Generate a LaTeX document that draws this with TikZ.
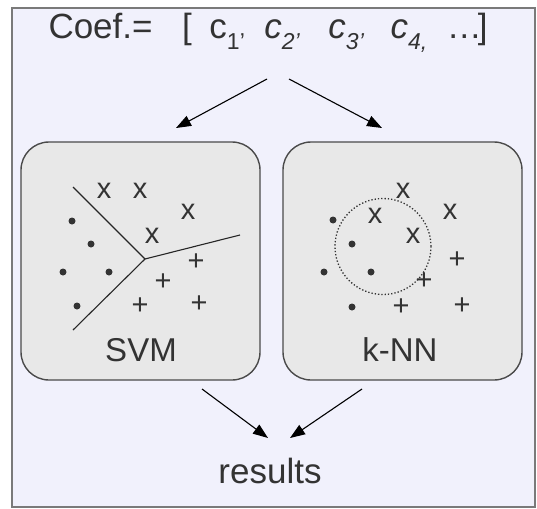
\documentclass[tikz,border=0pt]{standalone}
\usepackage{fontspec}
\setmainfont{Liberation Sans}
\usetikzlibrary{arrows.meta}
\definecolor{framefill}{HTML}{F1F1FC}
\definecolor{framedraw}{HTML}{7A7A7A}
\definecolor{boxfill}{HTML}{E8E8E8}
\definecolor{boxdraw}{HTML}{4A4A4A}
\definecolor{ink}{HTML}{333333}
\newcommand{\coefsub}[1]{\raisebox{-0.30em}{\fontsize{23}{25}\selectfont #1}}
\tikzset{
  panel/.style={draw=boxdraw, fill=boxfill, line width=1.4pt, rounded corners=28pt,
    minimum width=239pt, minimum height=238pt, inner sep=0pt},
  flow/.style={-{Triangle[length=15pt,width=11pt]}, line width=1.1pt, draw=black},
  label/.style={text=ink, font=\fontsize{33}{38}\selectfont, inner sep=0pt},
  mark x/.style={text=ink, font=\fontsize{29}{32}\selectfont, inner sep=0pt},
  mark plus/.style={text=ink, font=\fontsize{29}{32}\selectfont, inner sep=0pt},
  dot/.style={fill=ink, circle, minimum size=7pt, inner sep=0pt},
  border/.style={line width=1.1pt, draw=black!85}
}
\begin{document}
\begin{tikzpicture}[x=1pt, y=-1pt]
\useasboundingbox (0,0) rectangle (537,508);
% outer frame
\draw[framedraw, fill=framefill, line width=2pt] (12,8) rectangle (535,507);

% coefficient vector
\node[text=ink, font=\fontsize{35}{40}\selectfont, anchor=base, inner sep=0pt] (coef) at (268,39)
  {Coef.=\ \ \hspace{10pt}[\hspace{8pt} c\coefsub{1’}\ \ \textit{c}\coefsub{\textit{2’}}\ \ \hspace{9pt}\textit{c}\coefsub{\textit{3’}}\ \ \hspace{7pt}\textit{c}\coefsub{\textit{4,}}\ \ …\hspace{-4pt}]};

% classifier panels
\node[panel] (svm) at (140.5,261) {};
\node[panel] (knn) at (402.5,261) {};

% results
\node[text=ink, font=\fontsize{35}{40}\selectfont, inner sep=0pt, anchor=base] (res) at (270,483) {results};

% arrow end points
\coordinate (a1) at (267,79);
\coordinate (a1e) at (176,128);
\coordinate (a2) at (289,79);
\coordinate (a2e) at (382,128);
\coordinate (b1) at (202,389);
\coordinate (b1e) at (268,438);
\coordinate (b2) at (362,389);
\coordinate (b2e) at (290,438);
\draw[flow] (a1) -- (a1e);
\draw[flow] (a2) -- (a2e);
\draw[flow] (b1) -- (b1e);
\draw[flow] (b2) -- (b2e);

% SVM panel
\node[label, anchor=base] (svmlab) at (141,361) {SVM};
\coordinate (j) at (145,259);
\coordinate (s1) at (73,187);
\coordinate (s2) at (240,235);
\coordinate (s3) at (73,330);
\draw[border] (s1) -- (j) -- (s2);
\draw[border] (j) -- (s3);
\foreach \n/\x/\y in {1/104/191, 2/140/191, 3/188/212, 4/152/236}
  \node[mark x] (sx\n) at (\x,\y) {x};
\foreach \n/\x/\y in {1/72/221, 2/91/244, 3/63/272, 4/109/272, 5/77/306}
  \node[dot] (sd\n) at (\x,\y) {};
\foreach \n/\x/\y in {1/196/262, 2/163/282, 3/140/306, 4/199/304}
  \node[mark plus] (sp\n) at (\x,\y) {+};

% k-NN panel
\node[label, anchor=base] (knnlab) at (400,361) {k-NN};
\node[draw=ink, dotted, line width=1.3pt, circle, minimum size=96pt, inner sep=0pt] (nbhd) at (383,246.5) {};
\foreach \n/\x/\y in {1/403/191, 2/375/216, 3/450/212, 4/413/236}
  \node[mark x] (kx\n) at (\x,\y) {x};
\foreach \n/\x/\y in {1/333/220, 2/352/244, 3/324/272, 4/371/272, 5/352/307}
  \node[dot] (kd\n) at (\x,\y) {};
\foreach \n/\x/\y in {1/457/260, 2/424/281, 3/401/307, 4/462/306}
  \node[mark plus] (kp\n) at (\x,\y) {+};
\end{tikzpicture}
\end{document}
